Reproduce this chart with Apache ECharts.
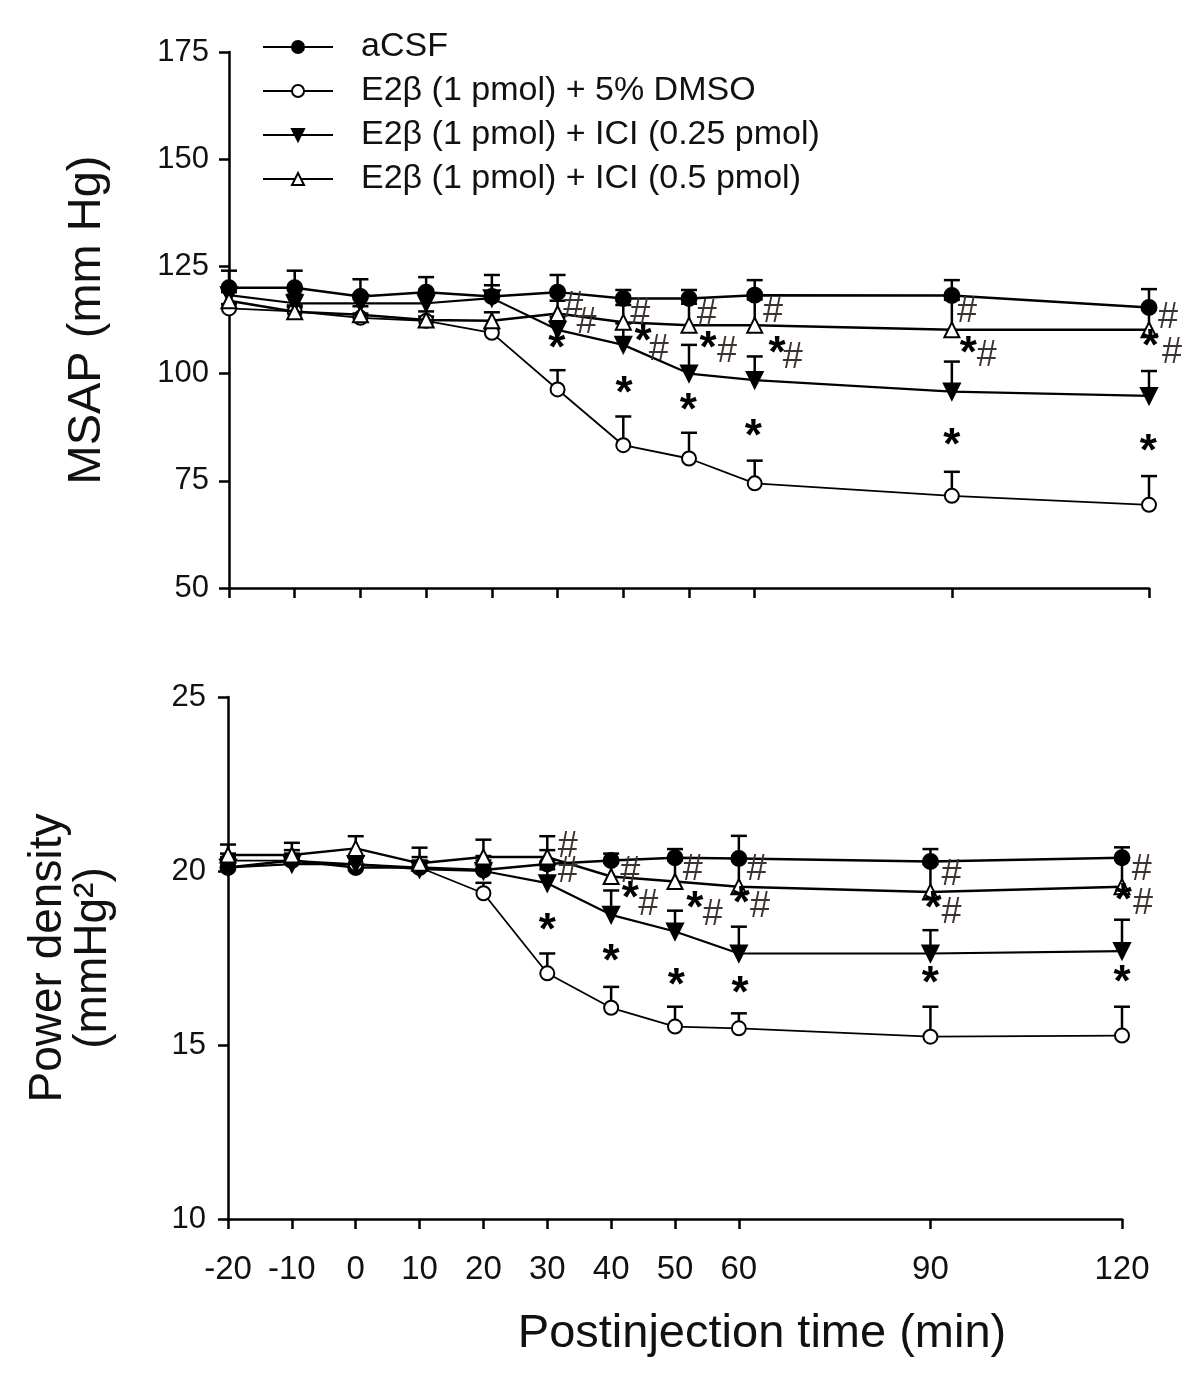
<!DOCTYPE html>
<html>
<head>
<meta charset="utf-8">
<script src="https://cdn.jsdelivr.net/npm/echarts@6/dist/echarts.min.js"></script>
<style>html,body{margin:0;padding:0;background:#fff}#c{width:1200px;height:1382px}</style>
</head>
<body>
<div id="c"></div>
<script>
// ---------- DATA ----------
const times = [-20, -10, 0, 10, 20, 30, 40, 50, 60, 90, 120];
const xTickValues = [-20, -10, 0, 10, 20, 30, 40, 50, 60, 90, 120];
const seriesNames = ['aCSF', 'E2β (1 pmol) + 5% DMSO', 'E2β (1 pmol) + ICI (0.25 pmol)', 'E2β (1 pmol) + ICI (0.5 pmol)'];

// MSAP (mm Hg)
const msapACSF    = [120, 120, 118, 119, 118, 119, 117.5, 117.5, 118.3, 118.2, 115.4];
const msapACSFse  = [4, 4, 4, 3.5, 5, 4, 2, 2, 3.5, 3.6, 4.3];
const msapDMSO    = [115.2, 114.5, 113, 112.3, 109.5, 96.3, 83.3, 80.2, 74.4, 71.5, 69.4];
const msapDMSOse  = [1, 1, 1, 1, 1, 4.5, 6.7, 6, 5.3, 5.6, 6.7];
const msapICI25   = [118.3, 116.4, 116.4, 116.4, 117.6, 110.2, 106.7, 100, 98.5, 95.8, 94.8];
const msapICI25se = [2, 2, 2, 2.5, 3, 3, 5, 6.7, 5.5, 7, 5.8];
const msapICI5    = [117, 114.4, 113.7, 112.5, 112.3, 114, 112, 111.3, 111.3, 110.2, 110.2];
const msapICI5se  = [2, 1.5, 2, 2, 2, 3, 4, 5, 6, 7, 5];
const msapStars   = [[29.9, 105.5], [40.1, 95], [43, 107.1], [49.9, 91.1], [52.9, 105.5], [59.8, 85], [63.4, 104.3], [90, 83], [92.5, 104.3], [119.9, 81.4], [120.2, 106]];
const msapHashes  = [[32.4, 115.6], [34.4, 111.7], [42.6, 113.9], [45.4, 105.5], [52.7, 113.7], [55.8, 105], [62.8, 114.4], [65.8, 103.6], [92.3, 114.4], [95.3, 104], [122.9, 112.9], [123.5, 104.8]];

// Power density (mmHg^2)
const pdACSF    = [20.1, 20.3, 20.1, 20.1, 20.03, 20.2, 20.3, 20.38, 20.36, 20.27, 20.38];
const pdACSFse  = [0.3, 0.3, 0.3, 0.3, 0.4, 0.4, 0.2, 0.25, 0.65, 0.36, 0.3];
const pdDMSO    = [20.3, 20.3, 20.2, 20.1, 19.36, 17.06, 16.07, 15.53, 15.48, 15.24, 15.27];
const pdDMSOse  = [0.2, 0.2, 0.2, 0.2, 0.3, 0.57, 0.6, 0.57, 0.43, 0.86, 0.83];
const pdICI25   = [20.1, 20.2, 20.2, 20.05, 20.0, 19.65, 18.74, 18.26, 17.63, 17.63, 17.7];
const pdICI25se = [0.2, 0.2, 0.2, 0.2, 0.3, 0.4, 0.7, 0.6, 0.77, 0.67, 0.9];
const pdICI5    = [20.46, 20.46, 20.65, 20.22, 20.4, 20.4, 19.84, 19.7, 19.55, 19.4, 19.55];
const pdICI5se  = [0.3, 0.35, 0.35, 0.45, 0.5, 0.6, 0.4, 0.6, 0.8, 0.8, 0.8];
const pdStars   = [[30, 18.26], [40, 17.35], [43, 19.17], [50.2, 16.68], [53.1, 18.88], [60.2, 16.44], [60.4, 19.02], [90, 16.72], [90.4, 18.88], [120, 16.75], [120.2, 19.12]];
const pdHashes  = [[33.2, 20.7], [33.2, 19.98], [43, 19.98], [45.8, 19.02], [52.8, 20.03], [55.9, 18.74], [62.8, 20.03], [63.3, 18.97], [93.3, 19.89], [93.3, 18.78], [123.1, 20.03], [123.3, 19.05]];

// ---------- CHART ----------
const FONT = "'Liberation Sans', Arial, sans-serif";
const chart = echarts.init(document.getElementById('c'), null, {renderer: 'canvas'});

const styles = [
  {symbol: 'circle', size: 15, rotate: 0, fill: '#000', lw: 2.5},
  {symbol: 'circle', size: 14, rotate: 0, fill: '#fff', lw: 1.8},
  {symbol: 'triangle', size: 16, rotate: 180, fill: '#000', lw: 2.2},
  {symbol: 'triangle', size: 15, rotate: 0, fill: '#fff', lw: 2.5}
];

function zip(v) { return times.map((t, i) => [t, v[i]]); }
function zipSe(v, se) { return times.map((t, i) => [t, v[i], se[i]]); }

function lineSeries(k, vals, idx) {
  const s = styles[k];
  return {
    type: 'line', name: seriesNames[k], xAxisIndex: idx, yAxisIndex: idx,
    data: zip(vals), symbol: s.symbol, symbolSize: s.size, symbolRotate: s.rotate,
    lineStyle: {color: '#000', width: s.lw},
    itemStyle: {color: s.fill, borderColor: '#000', borderWidth: 2},
    z: 5 + k, animation: false
  };
}

function errSeries(vals, se, idx, capW) {
  return {
    type: 'custom', xAxisIndex: idx, yAxisIndex: idx, data: zipSe(vals, se), z: 3,
    encode: {x: 0, y: 1}, animation: false, silent: true,
    renderItem: function (params, api) {
      const x = api.value(0), y = api.value(1), e = api.value(2);
      const p0 = api.coord([x, y]); const p1 = api.coord([x, y + e]);
      return {type: 'group', children: [
        {type: 'line', shape: {x1: p0[0], y1: p0[1], x2: p1[0], y2: p1[1]}, style: {stroke: '#000', lineWidth: 2.5}},
        {type: 'line', shape: {x1: p1[0] - capW, y1: p1[1], x2: p1[0] + capW, y2: p1[1]}, style: {stroke: '#000', lineWidth: 2.5}}
      ]};
    }
  };
}

function textSeries(pts, txt, idx, size, color, weight) {
  return {
    type: 'custom', xAxisIndex: idx, yAxisIndex: idx, data: pts, z: 10, clip: false,
    encode: {x: 0, y: 1}, animation: false, silent: true,
    renderItem: function (params, api) {
      const p = api.coord([api.value(0), api.value(1)]);
      return {type: 'text', x: p[0], y: p[1], style: {text: txt, fontSize: size, fontFamily: FONT, fontWeight: weight, fill: color, align: 'center', verticalAlign: 'middle'}};
    }
  };
}

const axisLineStyle = {color: '#000', width: 2.5};
const tickStyle = {color: '#000', width: 2.5};

const option = {
  backgroundColor: '#fff',
  animation: false,
  textStyle: {fontFamily: FONT},
  title: {
    text: 'Postinjection time (min)', left: 757, top: 1306, textAlign: 'center',
    textStyle: {fontSize: 47, fontWeight: 'normal', color: '#111', fontFamily: FONT}
  },
  legend: {
    data: seriesNames, orient: 'vertical', left: 262, top: 30, padding: 0, itemWidth: 70, itemHeight: 15, itemGap: 10,
    textStyle: {fontSize: 34, color: '#111', fontFamily: FONT, padding: [0, 0, 0, 23]},
    selectedMode: false
  },
  grid: [
    {left: 229, right: 51, top: 52, height: 536},
    {left: 228, right: 78, top: 697, height: 522}
  ],
  xAxis: [
    {gridIndex: 0, type: 'value', min: -20, max: 120,
      axisLine: {show: true, onZero: false, lineStyle: axisLineStyle},
      axisTick: {show: true, length: 10, inside: false, lineStyle: tickStyle, customValues: xTickValues},
      axisLabel: {show: false}, splitLine: {show: false}},
    {gridIndex: 1, type: 'value', min: -20, max: 120,
      axisLine: {show: true, onZero: false, lineStyle: axisLineStyle},
      axisTick: {show: true, length: 10, inside: false, lineStyle: tickStyle, customValues: xTickValues},
      axisLabel: {show: true, customValues: xTickValues, fontSize: 33, color: '#111', margin: 34, fontFamily: FONT},
      splitLine: {show: false}}
  ],
  yAxis: [
    {gridIndex: 0, type: 'value', min: 50, max: 175, interval: 25,
      name: 'MSAP (mm Hg)', nameLocation: 'middle', nameGap: 118, nameRotate: 90,
      nameTextStyle: {fontSize: 47, color: '#111', fontFamily: FONT},
      axisLine: {show: true, onZero: false, lineStyle: axisLineStyle},
      axisTick: {show: true, length: 10, inside: false, lineStyle: tickStyle},
      axisLabel: {fontSize: 31, color: '#111', margin: 20, fontFamily: FONT}, splitLine: {show: false}},
    {gridIndex: 1, type: 'value', min: 10, max: 25, interval: 5,
      name: 'Power density\n(mmHg²)', nameLocation: 'middle', nameGap: 112, nameRotate: 90,
      nameTextStyle: {fontSize: 46, color: '#111', fontFamily: FONT, lineHeight: 45},
      axisLine: {show: true, onZero: false, lineStyle: axisLineStyle},
      axisTick: {show: true, length: 10, inside: false, lineStyle: tickStyle},
      axisLabel: {fontSize: 31, color: '#111', margin: 22, fontFamily: FONT}, splitLine: {show: false}}
  ],
  series: [
    errSeries(msapACSF, msapACSFse, 0, 8),
    errSeries(msapDMSO, msapDMSOse, 0, 8),
    errSeries(msapICI25, msapICI25se, 0, 8),
    errSeries(msapICI5, msapICI5se, 0, 8),
    lineSeries(0, msapACSF, 0),
    lineSeries(1, msapDMSO, 0),
    lineSeries(2, msapICI25, 0),
    lineSeries(3, msapICI5, 0),
    textSeries(msapStars, '*', 0, 44, '#000', 'bold'),
    textSeries(msapHashes, '#', 0, 36, '#3a3330', 'normal'),

    errSeries(pdACSF, pdACSFse, 1, 8),
    errSeries(pdDMSO, pdDMSOse, 1, 8),
    errSeries(pdICI25, pdICI25se, 1, 8),
    errSeries(pdICI5, pdICI5se, 1, 8),
    lineSeries(0, pdACSF, 1),
    lineSeries(1, pdDMSO, 1),
    lineSeries(2, pdICI25, 1),
    lineSeries(3, pdICI5, 1),
    textSeries(pdStars, '*', 1, 44, '#000', 'bold'),
    textSeries(pdHashes, '#', 1, 36, '#3a3330', 'normal')
  ]
};
chart.setOption(option);
</script>
</body>
</html>
